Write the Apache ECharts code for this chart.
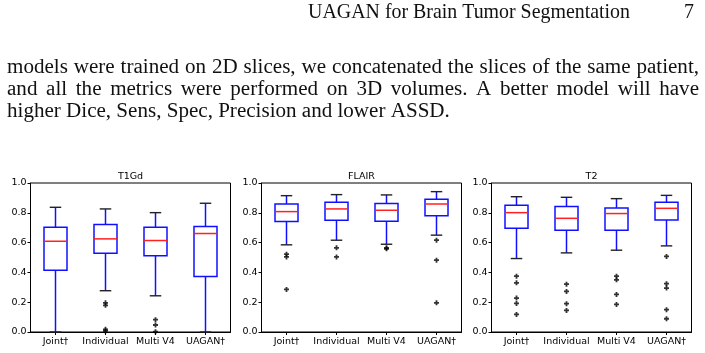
<!DOCTYPE html>
<html><head><meta charset="utf-8">
<script src="https://cdn.jsdelivr.net/npm/echarts@6/dist/echarts.min.js"></script>
<style>html,body{margin:0;padding:0;background:#fff}#c{width:705px;height:353px}</style>
</head><body><div id="c"></div>
<script>
// ---------- data ----------
const categories = ['Joint†', 'Individual', 'Multi V4', 'UAGAN†'];
const chartTitles = ['T1Gd', 'FLAIR', 'T2'];
const yTickValues = [0.0, 0.2, 0.4, 0.6, 0.8, 1.0];
// each box: [lower whisker, Q1, median, Q3, upper whisker]
const t1gdBoxes = [
  [0.000, 0.415, 0.609, 0.703, 0.837],
  [0.277, 0.529, 0.625, 0.721, 0.826],
  [0.243, 0.511, 0.614, 0.703, 0.801],
  [0.000, 0.373, 0.661, 0.708, 0.864]
];
const t1gdOutliers = [[], [0.196, 0.179, 0.018, 0.007], [0.083, 0.047, 0.002], []];
const flairBoxes = [
  [0.585, 0.741, 0.808, 0.859, 0.915],
  [0.616, 0.750, 0.826, 0.871, 0.922],
  [0.589, 0.743, 0.817, 0.862, 0.920],
  [0.650, 0.781, 0.859, 0.891, 0.942]
];
const flairOutliers = [[0.522, 0.504, 0.286], [0.565, 0.504], [0.565, 0.558], [0.616, 0.482, 0.196]];
const t2Boxes = [
  [0.493, 0.696, 0.801, 0.850, 0.908],
  [0.531, 0.683, 0.763, 0.842, 0.904],
  [0.549, 0.683, 0.795, 0.833, 0.895],
  [0.578, 0.752, 0.830, 0.871, 0.917]
];
const t2Outliers = [[0.375, 0.330, 0.228, 0.192, 0.118], [0.321, 0.272, 0.190, 0.145], [0.375, 0.350, 0.252, 0.185], [0.507, 0.324, 0.295, 0.150, 0.089]];
const headerText = 'UAGAN for Brain Tumor Segmentation';
const pageNumber = '7';
const paragraphLines = [
  'models were trained on 2D slices, we concatenated the slices of the same patient,',
  'and all the metrics were performed on 3D volumes. A better model will have',
  'higher Dice, Sens, Spec, Precision and lower ASSD.'
];

// ---------- layout ----------
const gridLefts = [30.5, 261.5, 491.5];
const gridTop = 183, gridW = 200, gridH = 149;
const allBoxes = [t1gdBoxes, flairBoxes, t2Boxes];
const allOutliers = [t1gdOutliers, flairOutliers, t2Outliers];
const axisFont = 'DejaVu Sans';
const serif = 'Liberation Serif';

const cvs = document.createElement('canvas').getContext('2d');
function measure(t, size) { cvs.font = size + 'px "' + serif + '"'; return cvs.measureText(t).width; }
const textSize = 443 / measure(paragraphLines[2], 100) * 100;
const headSize = 322 / measure(headerText, 100) * 100;

const textColor = '#111';
const graphics = [];
graphics.push({ type: 'text', x: 630, y: 13, style: { text: headerText, font: headSize.toFixed(2) + 'px "' + serif + '"', fill: textColor, textAlign: 'right', textVerticalAlign: 'middle' } });
graphics.push({ type: 'text', x: 694, y: 13, style: { text: pageNumber, font: headSize.toFixed(2) + 'px "' + serif + '"', fill: textColor, textAlign: 'right', textVerticalAlign: 'middle' } });
const lineYs = [67, 89, 111];
const textLeft = 7, textRight = 699;
paragraphLines.forEach((line, li) => {
  const fontStr = textSize.toFixed(2) + 'px "' + serif + '"';
  if (li < 2) {
    const words = line.split(' ');
    const widths = words.map(w => measure(w, textSize));
    const total = widths.reduce((a, b) => a + b, 0);
    const gap = (textRight - textLeft - total) / (words.length - 1);
    let x = textLeft;
    words.forEach((w, i) => {
      graphics.push({ type: 'text', x: x, y: lineYs[li], style: { text: w, font: fontStr, fill: textColor, textAlign: 'left', textVerticalAlign: 'middle' } });
      x += widths[i] + gap;
    });
  } else {
    graphics.push({ type: 'text', x: textLeft, y: lineYs[li], style: { text: line, font: fontStr, fill: textColor, textAlign: 'left', textVerticalAlign: 'middle' } });
  }
});
chartTitles.forEach((t, i) => {
  graphics.push({ type: 'text', x: gridLefts[i] + gridW / 2, y: 176.5, style: { text: t, font: '9.5px "' + axisFont + '"', fill: '#000', textAlign: 'center', textVerticalAlign: 'middle' } });
});

const grids = [], xAxes = [], yAxes = [], series = [];
function renderBox(params, api) {
  const ci = api.value(0);
  const v = [1, 2, 3, 4, 5].map(k => api.value(k));
  const band = api.size([1, 0])[0];
  const bw = band * 0.46, cw = band * 0.23;
  const pts = v.map(val => api.coord([ci, val]));
  const cx = pts[0][0];
  const [yLo, yQ1, yMed, yQ3, yHi] = pts.map(p => p[1]);
  const blue = { stroke: '#1010ff', lineWidth: 1.5, fill: null };
  return {
    type: 'group', children: [
      { type: 'line', shape: { x1: cx, y1: yQ1, x2: cx, y2: yLo }, style: blue },
      { type: 'line', shape: { x1: cx, y1: yQ3, x2: cx, y2: yHi }, style: blue },
      { type: 'line', shape: { x1: cx - cw / 2, y1: yLo, x2: cx + cw / 2, y2: yLo }, style: { stroke: '#222', lineWidth: 1.4 } },
      { type: 'line', shape: { x1: cx - cw / 2, y1: yHi, x2: cx + cw / 2, y2: yHi }, style: { stroke: '#222', lineWidth: 1.4 } },
      { type: 'rect', shape: { x: cx - bw / 2, y: yQ3, width: bw, height: yQ1 - yQ3 }, style: { stroke: '#1010ff', lineWidth: 1.5, fill: 'rgba(0,0,0,0)' } },
      { type: 'line', shape: { x1: cx - bw / 2, y1: yMed, x2: cx + bw / 2, y2: yMed }, style: { stroke: '#ff2020', lineWidth: 1.5 } }
    ]
  };
}
for (let g = 0; g < 3; g++) {
  grids.push({ left: gridLefts[g], top: gridTop, width: gridW, height: gridH, show: true, borderColor: '#000', borderWidth: 1, backgroundColor: 'transparent' });
  xAxes.push({
    type: 'category', gridIndex: g, data: categories, boundaryGap: true,
    axisLine: { show: true, lineStyle: { color: '#000', width: 1 } },
    axisTick: { show: true, alignWithLabel: true, length: 3, lineStyle: { color: '#000' } },
    axisLabel: { color: '#000', fontSize: 9.5, fontFamily: axisFont, margin: 5, interval: 0 },
    splitLine: { show: false }
  });
  yAxes.push({
    type: 'value', gridIndex: g, min: yTickValues[0], max: yTickValues[yTickValues.length - 1], interval: 0.2,
    axisLine: { show: true, lineStyle: { color: '#000', width: 1 } },
    axisTick: { show: true, length: 3, lineStyle: { color: '#000' } },
    axisLabel: { color: '#000', fontSize: 9.5, fontFamily: axisFont, margin: 4, formatter: v => v.toFixed(1) },
    splitLine: { show: false }
  });
  series.push({
    type: 'custom', xAxisIndex: g, yAxisIndex: g, renderItem: renderBox,
    encode: { x: 0, y: [1, 2, 3, 4, 5] },
    data: allBoxes[g].map((b, i) => [i].concat(b)),
    z: 3, silent: true
  });
  const out = [];
  allOutliers[g].forEach((arr, i) => arr.forEach(v => out.push([i, v])));
  series.push({
    type: 'scatter', xAxisIndex: g, yAxisIndex: g, data: out,
    symbol: 'path://M1.6,0H3.4V1.6H5V3.4H3.4V5H1.6V3.4H0V1.6H1.6Z', symbolSize: 5,
    itemStyle: { color: '#000' }, z: 4, silent: true
  });
}

const chart = echarts.init(document.getElementById('c'), null, { renderer: 'canvas' });
chart.setOption({
  backgroundColor: '#fff', animation: false,
  grid: grids, xAxis: xAxes, yAxis: yAxes, series: series, graphic: graphics
});
</script>
</body></html>
